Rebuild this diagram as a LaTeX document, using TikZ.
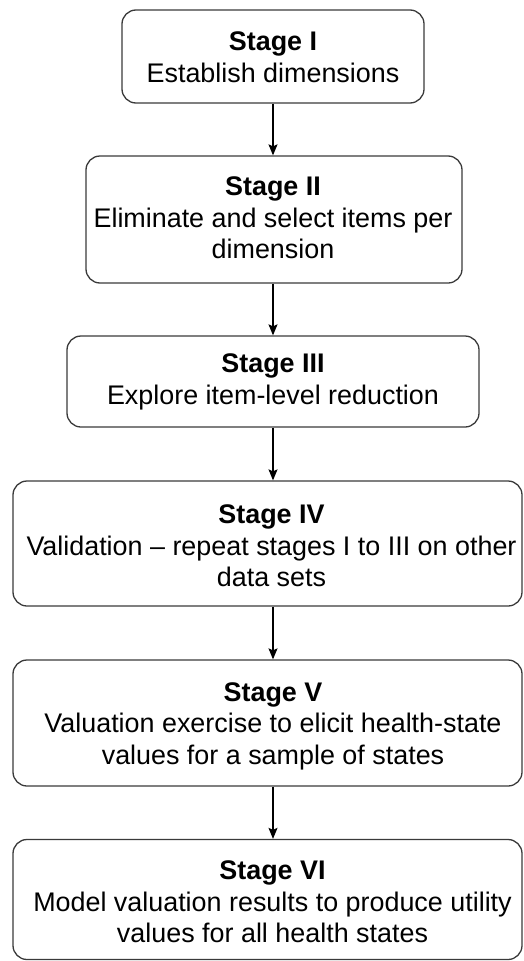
\documentclass[tikz,border=0pt]{standalone}
\usepackage{fontspec}
\setmainfont{Liberation Sans}
\usetikzlibrary{arrows.meta}
\definecolor{edge}{HTML}{3A3A3A}
\tikzset{
  box/.style={draw=edge, line width=1.3pt, rounded corners=14pt, inner sep=0pt},
  txt/.style={align=center, inner sep=0pt, font=\fontsize{26.9}{31.5}\selectfont, text=black},
  flow/.style={draw=black, line width=1.2pt, -{Stealth[length=11pt,width=9pt,inset=2pt]}}
}
\begin{document}
\begin{tikzpicture}[x=1pt,y=-1pt]
\useasboundingbox (0,0) rectangle (523,961);
% boxes
\node[box, minimum width=302pt, minimum height=93pt] (b1) at (273,56.5) {};
\node[box, minimum width=376pt, minimum height=127pt] (b2) at (274,219.5) {};
\node[box, minimum width=412pt, minimum height=91pt] (b3) at (273,381.5) {};
\node[box, minimum width=509pt, minimum height=125pt] (b4) at (267.5,543.5) {};
\node[box, minimum width=509pt, minimum height=126pt] (b5) at (267.5,723) {};
\node[box, minimum width=509pt, minimum height=120pt] (b6) at (267.5,899.5) {};
% texts
\node[txt] (t1) at (273,57) {\textbf{Stage I}\\Establish dimensions};
\node[txt] (t2) at (273,218) {\textbf{Stage II}\\Eliminate and select items per\\dimension};
\node[txt] (t3) at (273,382) {\textbf{Stage III}\\Explore item-level reduction};
\node[txt] (t4) at (271.5,546) {\textbf{Stage IV}\\Validation – repeat stages I to III on other\\data sets};
\node[txt] (t5) at (273,726) {\textbf{Stage V}\\Valuation exercise to elicit health-state\\values for a sample of states};
\node[txt] (t6) at (272.5,902) {\textbf{Stage VI}\\Model valuation results to produce utility\\values for all health states};
% arrows
\coordinate (ax) at (273,0);
\draw[flow] (b1.south -| ax) -- (b2.north -| ax);
\draw[flow] (b2.south -| ax) -- (b3.north -| ax);
\draw[flow] (b3.south -| ax) -- (b4.north -| ax);
\draw[flow] (b4.south -| ax) -- (b5.north -| ax);
\draw[flow] (b5.south -| ax) -- (b6.north -| ax);
\end{tikzpicture}
\end{document}
